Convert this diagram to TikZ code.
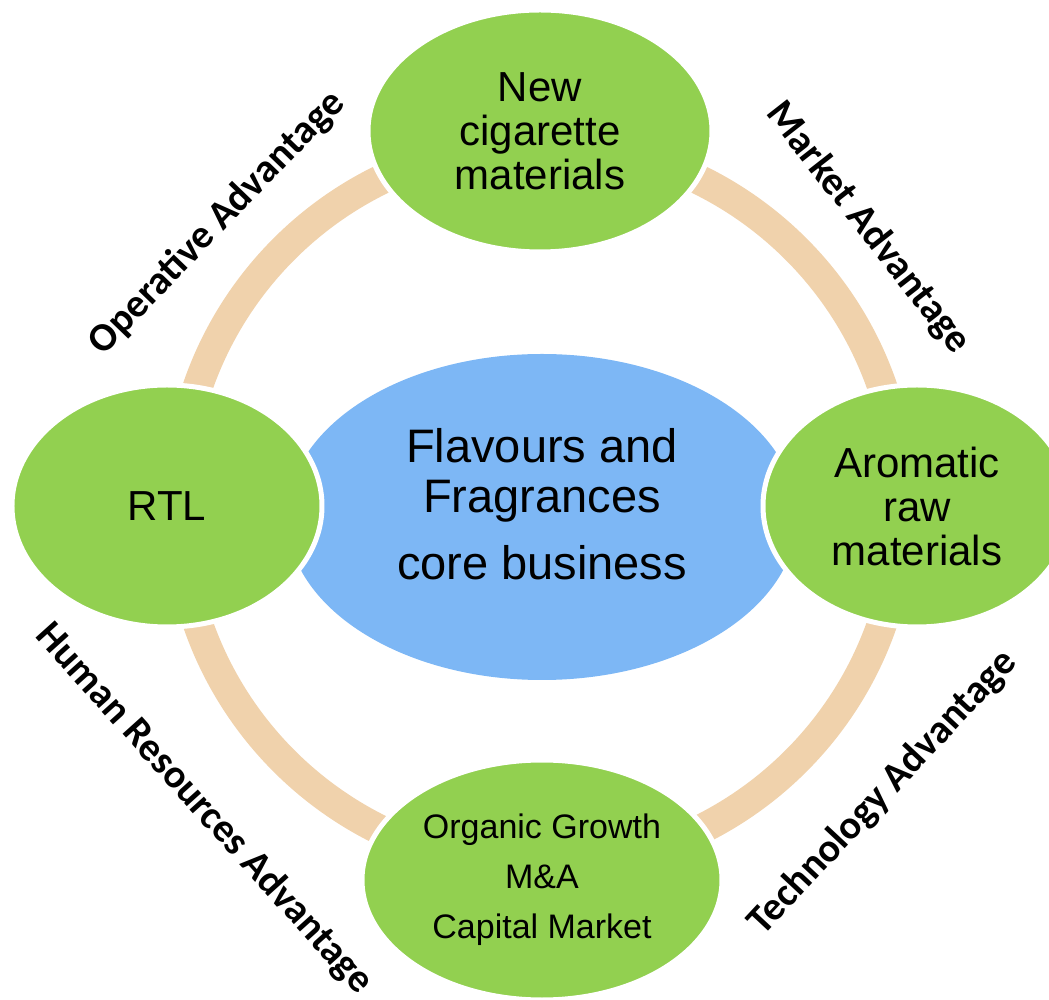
\documentclass[tikz,border=0pt]{standalone}
\usepackage{fontspec}
\setmainfont{Liberation Sans}
\newfontfamily\advfont{Carlito}
\usetikzlibrary{shapes.geometric,positioning}

\definecolor{leaf}{RGB}{146,208,80}
\definecolor{sky}{RGB}{125,183,245}
\definecolor{sand}{RGB}{240,210,172}

\tikzstyle{g} = [ellipse, inner sep=0pt, fill=leaf, draw=white, line width=5pt, text centered, align=center, font=\fontsize{42}{44}\selectfont]
\tikzstyle{b} = [ellipse, inner sep=0pt, minimum width=510pt, minimum height=326pt, fill=sky, text centered, align=center, font=\fontsize{47}{50}\selectfont]
\tikzstyle{adv} = [font=\advfont\bfseries\fontsize{40}{42}\selectfont]
\tikzstyle{ring} = [draw=sand, line width=30pt]

\begin{document}
\begin{tikzpicture}[x=1pt,y=1pt,node distance=375pt]
        \useasboundingbox (-542,-483) rectangle (507,517);
        \coordinate (mid) at (-2,12);
        \draw[ring] (mid) circle (362pt);
        \node[b, text depth=26pt] (core) at (0,0) {Flavours and\\Fragrances\\[17pt]core business};
        \node[g, minimum width=344pt, minimum height=242pt] (new) [above of=core, xshift=-2pt, yshift=11pt] {New\\cigarette\\materials};
        \node[g, minimum width=310pt, minimum height=242pt] (rtl) [left of=core, yshift=11pt] {RTL};
        \node[g, minimum width=308pt, minimum height=242pt] (arom) [right of=core, yshift=11pt] {Aromatic\\raw\\materials};
        \node[g, minimum width=360pt, minimum height=240pt, font=\fontsize{34}{50}\selectfont] (grow) [below of=core, yshift=12pt] {Organic Growth\\M\&A\\Capital Market};
        \node[adv, rotate=46] (op) at (-325,294) {Operative Advantage};
        \node[adv, rotate=-52] (mk) at (326,289) {Market Advantage};
        \node[adv, rotate=-48] (hr) at (-338,-292) {Human Resources Advantage};
        \node[adv, rotate=47] (tech) at (341,-276) {Technology Advantage};
    \end{tikzpicture}
\end{document}
